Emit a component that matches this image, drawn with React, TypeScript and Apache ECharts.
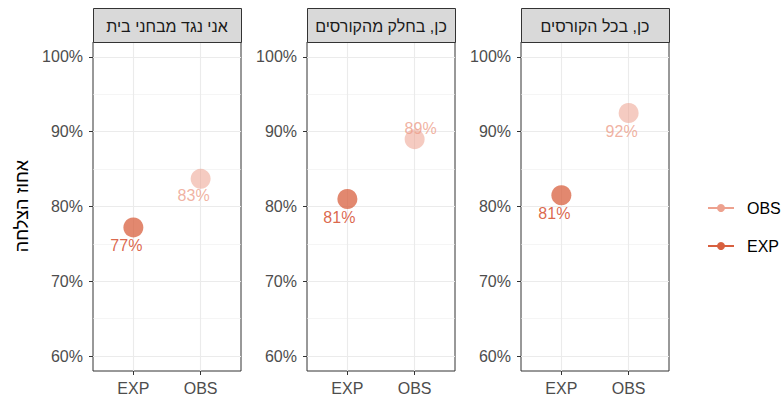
import React, { useEffect, useRef } from 'react';
import * as echarts from 'echarts';

// ---- data ----
const categories = ['EXP', 'OBS'];
const panels = ['אני נגד מבחני בית', 'כן, בחלק מהקורסים', 'כן, בכל הקורסים'];
const expValues = [77.2, 81.0, 81.5];
const obsValues = [83.7, 89.0, 92.5];
const expLabels = ['77%', '81%', '81%'];
const obsLabels = ['83%', '89%', '92%'];
const majorTicks = [60, 70, 80, 90, 100];
const minorTicks = [65, 75, 85, 95];
const legendOrder = ['OBS', 'EXP'];
const yTitle = 'אחוז הצלחה';

// ---- style ----
const FONT = '"Liberation Sans", Arial, sans-serif';
const EXP_COLOR = '#D8603F';
const OBS_COLOR = '#EDA18E';
const EXP_LABEL = 'rgba(216,90,60,0.92)';
const OBS_LABEL = 'rgba(237,158,138,0.8)';
const gridLefts = [93, 307, 521];
const GRID_W = 148;
const GRID_TOP = 42;
const GRID_H = 329;
const STRIP_TOP = 8;
const expLabelOffsets = [[-7, 18], [-8, 18], [-7, 18]];
const obsLabelOffsets = [[-7, 17], [6, -11], [-7, 18]];

export default function App() {
  const ref = useRef<HTMLDivElement>(null);
  useEffect(() => {
    if (!ref.current) return;
    const chart = echarts.init(ref.current, undefined, { renderer: 'svg' });

    const grids: any[] = [];
    const xAxes: any[] = [];
    const yAxes: any[] = [];
    const series: any[] = [];
    const graphics: any[] = [];

    panels.forEach((title, i) => {
      grids.push({
        left: gridLefts[i],
        top: GRID_TOP,
        width: GRID_W,
        height: GRID_H,
        show: true,
        borderColor: '#333333',
        borderWidth: 1,
        backgroundColor: 'transparent',
      });
      xAxes.push({
        gridIndex: i,
        type: 'value',
        min: 0.4,
        max: 2.6,
        axisLine: { show: false },
        axisTick: {
          show: true,
          length: 4,
          lineStyle: { color: '#333333' },
          customValues: categories.map((_, k) => k + 1),
        },
        axisLabel: {
          customValues: categories.map((_, k) => k + 1),
          formatter: (v: number) => categories[Math.round(v) - 1] ?? '',
          color: '#4D4D4D',
          fontSize: 16,
          fontFamily: FONT,
          margin: 9,
        },
        splitLine: { show: true, lineStyle: { color: '#EBEBEB', width: 1.1 } },
      });
      yAxes.push({
        gridIndex: i,
        type: 'value',
        position: 'left',
        min: 58,
        max: 102,
        axisLine: { show: false },
        axisTick: {
          show: true,
          length: 4,
          lineStyle: { color: '#333333' },
          customValues: majorTicks,
        },
        axisLabel: {
          customValues: majorTicks,
          formatter: (v: number) => `${v}%`,
          color: '#4D4D4D',
          fontSize: 16,
          fontFamily: FONT,
          margin: 10,
        },
        splitLine: { show: true, lineStyle: { color: '#EBEBEB', width: 1.1 } },
      });
      yAxes.push({
        gridIndex: i,
        type: 'value',
        position: 'left',
        min: 58,
        max: 102,
        axisLine: { show: false },
        axisTick: { show: false, customValues: minorTicks },
        axisLabel: { show: false, customValues: minorTicks },
        splitLine: { show: true, lineStyle: { color: '#EFEFEF', width: 0.6 } },
      });

      series.push({
        name: 'OBS',
        type: 'line',
        xAxisIndex: i,
        yAxisIndex: 2 * i,
        symbol: 'circle',
        symbolSize: 20,
        showSymbol: true,
        itemStyle: { color: OBS_COLOR, opacity: 0.55 },
        lineStyle: { color: OBS_COLOR, width: 1.5 },
        label: {
          show: true,
          position: 'inside',
          formatter: obsLabels[i],
          color: OBS_LABEL,
          opacity: 1,
          fontSize: 16,
          fontFamily: FONT,
        },
        emphasis: { disabled: true },
        data: [{ value: [categories.indexOf('OBS') + 1, obsValues[i]], label: { offset: obsLabelOffsets[i] } }],
      });
      series.push({
        name: 'EXP',
        type: 'line',
        xAxisIndex: i,
        yAxisIndex: 2 * i,
        symbol: 'circle',
        symbolSize: 20,
        showSymbol: true,
        itemStyle: { color: EXP_COLOR, opacity: 0.75 },
        lineStyle: { color: EXP_COLOR, width: 1.5 },
        label: {
          show: true,
          position: 'inside',
          formatter: expLabels[i],
          color: EXP_LABEL,
          opacity: 1,
          fontSize: 16,
          fontFamily: FONT,
        },
        emphasis: { disabled: true },
        data: [{ value: [categories.indexOf('EXP') + 1, expValues[i]], label: { offset: expLabelOffsets[i] } }],
      });

      graphics.push({
        type: 'rect',
        shape: { x: gridLefts[i] + 0.5, y: STRIP_TOP + 0.5, width: GRID_W, height: GRID_TOP - STRIP_TOP },
        style: { fill: '#D9D9D9', stroke: '#333333', lineWidth: 1 },
        z: 10,
      });
      graphics.push({
        type: 'text',
        x: gridLefts[i] + GRID_W / 2,
        y: (STRIP_TOP + GRID_TOP) / 2 + 1,
        style: {
          text: title,
          fill: '#1A1A1A',
          fontSize: 16,
          fontFamily: FONT,
          align: 'center',
          verticalAlign: 'middle',
        },
        z: 11,
      });
    });

    graphics.push({
      type: 'text',
      x: 22,
      y: 206,
      rotation: Math.PI / 2,
      style: {
        text: yTitle,
        fill: '#000000',
        fontSize: 18,
        fontFamily: FONT,
        align: 'center',
        verticalAlign: 'middle',
      },
    });

    chart.setOption({
      animation: false,
      backgroundColor: '#FFFFFF',
      textStyle: { fontFamily: FONT },
      grid: grids,
      xAxis: xAxes,
      yAxis: yAxes,
      series,
      graphic: graphics,
      legend: {
        orient: 'vertical',
        left: 702,
        top: 195,
        itemWidth: 26,
        itemHeight: 10,
        itemGap: 22,
        selectedMode: false,
        data: legendOrder,
        itemStyle: { opacity: 1 },
        textStyle: { fontSize: 16, color: '#000000', fontFamily: FONT, padding: [0, 0, 0, 8] },
      },
    });
    return () => chart.dispose();
  }, []);

  return (
    <div
      ref={ref}
      style={{ position: 'fixed', left: 0, top: 0, width: 781, height: 401, background: '#fff' }}
    />
  );
}
